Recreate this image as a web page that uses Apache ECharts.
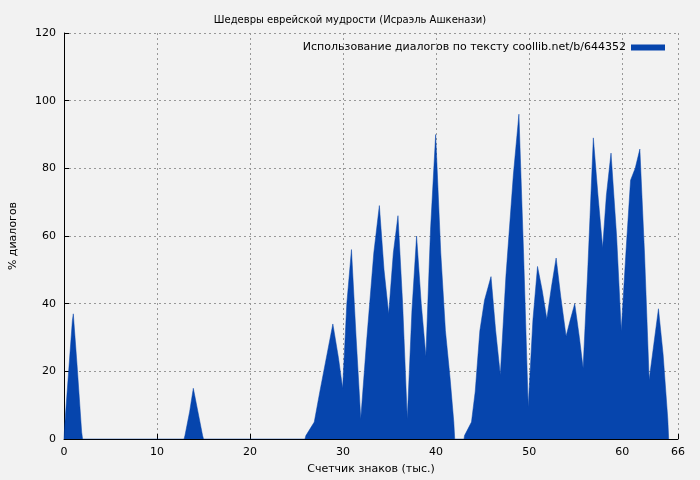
<!DOCTYPE html>
<html><head><meta charset="utf-8">
<script src="https://cdn.jsdelivr.net/npm/echarts@6/dist/echarts.min.js"></script>
<style>body{margin:0;background:#f2f2f2}#c{width:700px;height:480px}</style>
</head><body><div id="c"></div>
<script>
// точки кривой: тысячи знаков / % диалогов
var xs = [0, 0.1, 0.5, 0.9, 1.0, 1.4, 1.9, 2.0,
  12.9, 13.0, 13.5, 13.9, 14.4, 14.9, 15.0,
  25.9, 26.0, 26.9, 27.5, 28.9, 29.5, 29.95, 30.4, 30.9, 31.4, 31.9, 32.5, 33.3, 33.9, 34.4, 34.9, 35.4, 35.9, 36.4, 36.9, 37.4, 37.9, 38.4, 38.9, 39.4, 39.95, 40.5, 41.0, 41.5, 41.9, 42.0,
  43.0, 43.05, 43.8, 44.2, 44.7, 45.2, 45.9, 46.4, 46.9, 47.5, 48.3, 48.9, 49.4, 49.9, 50.4, 50.9, 51.4, 51.9, 52.4, 52.9, 53.4, 53.97, 54.4, 54.9, 55.4, 55.8, 56.3, 56.9, 57.4, 57.9, 58.3, 58.8, 59.4, 59.9, 60.4, 60.9, 61.4, 61.9, 62.4, 62.9, 63.4, 63.9, 64.4, 64.9, 65.0];
var ys = [0, 5, 20, 35, 37, 22, 2, 0,
  0, 1, 8, 15, 8, 1, 0,
  0, 1, 5, 14, 34, 24, 15, 40, 56, 30, 6, 28, 55, 69, 50, 37, 55, 66, 40, 6, 38, 60, 40, 24.5, 62, 90, 55, 32, 18, 5, 0,
  0, 1, 5, 14, 32, 41, 48, 32, 19, 48, 78, 96, 55, 9.5, 35, 51, 44, 35.5, 45, 53.5, 42, 30.4, 35, 40, 30, 21, 50, 89, 72, 56.5, 72, 84.5, 60, 32, 55, 76.5, 80, 85.7, 55, 17.5, 28, 38.5, 25, 6, 0];

var data = xs.map(function (x, i) { return [x, ys[i]]; });
var chart = echarts.init(document.getElementById('c'));
var txt = {fontFamily: 'DejaVu Sans', fontSize: 11, color: '#000'};
chart.setOption({
  backgroundColor: '#f2f2f2',
  animation: false,
  title: {text: 'Шедевры еврейской мудрости (Исраэль Ашкенази)', left: 'center', top: 10,
    textStyle: {fontFamily: 'DejaVu Sans', fontSize: 10, fontWeight: 'normal', color: '#000'}},
  legend: {right: 30, top: 37, itemWidth: 34, itemHeight: 6, icon: 'rect', align: 'right',
    textStyle: txt, data: ['Использование диалогов по тексту coollib.net/b/644352']},
  grid: {left: 61, right: 22, top: 33, bottom: 41},
  xAxis: {type: 'value', min: 0, max: 66, interval: 10, name: 'Счетчик знаков (тыс.)',
    nameLocation: 'middle', nameGap: 25, nameTextStyle: txt,
    axisLabel: txt, axisLine: {lineStyle: {color: '#000'}}, axisTick: {inside: true, lineStyle: {color: '#000'}},
    splitLine: {lineStyle: {color: '#999', type: [2, 3]}}},
  yAxis: {type: 'value', min: 0, max: 120, interval: 20, name: '% диалогов',
    nameLocation: 'middle', nameGap: 45, nameTextStyle: txt,
    axisLabel: txt, axisLine: {show: true, lineStyle: {color: '#000'}}, axisTick: {show: true, inside: true, lineStyle: {color: '#000'}},
    splitLine: {lineStyle: {color: '#999', type: [2, 3]}}},
  series: [{name: 'Использование диалогов по тексту coollib.net/b/644352', type: 'line', data: data,
    showSymbol: false, lineStyle: {width: 0.5, color: '#0645ad'}, itemStyle: {color: '#0645ad'},
    areaStyle: {color: '#0645ad', opacity: 1}}]
});
</script></body></html>
